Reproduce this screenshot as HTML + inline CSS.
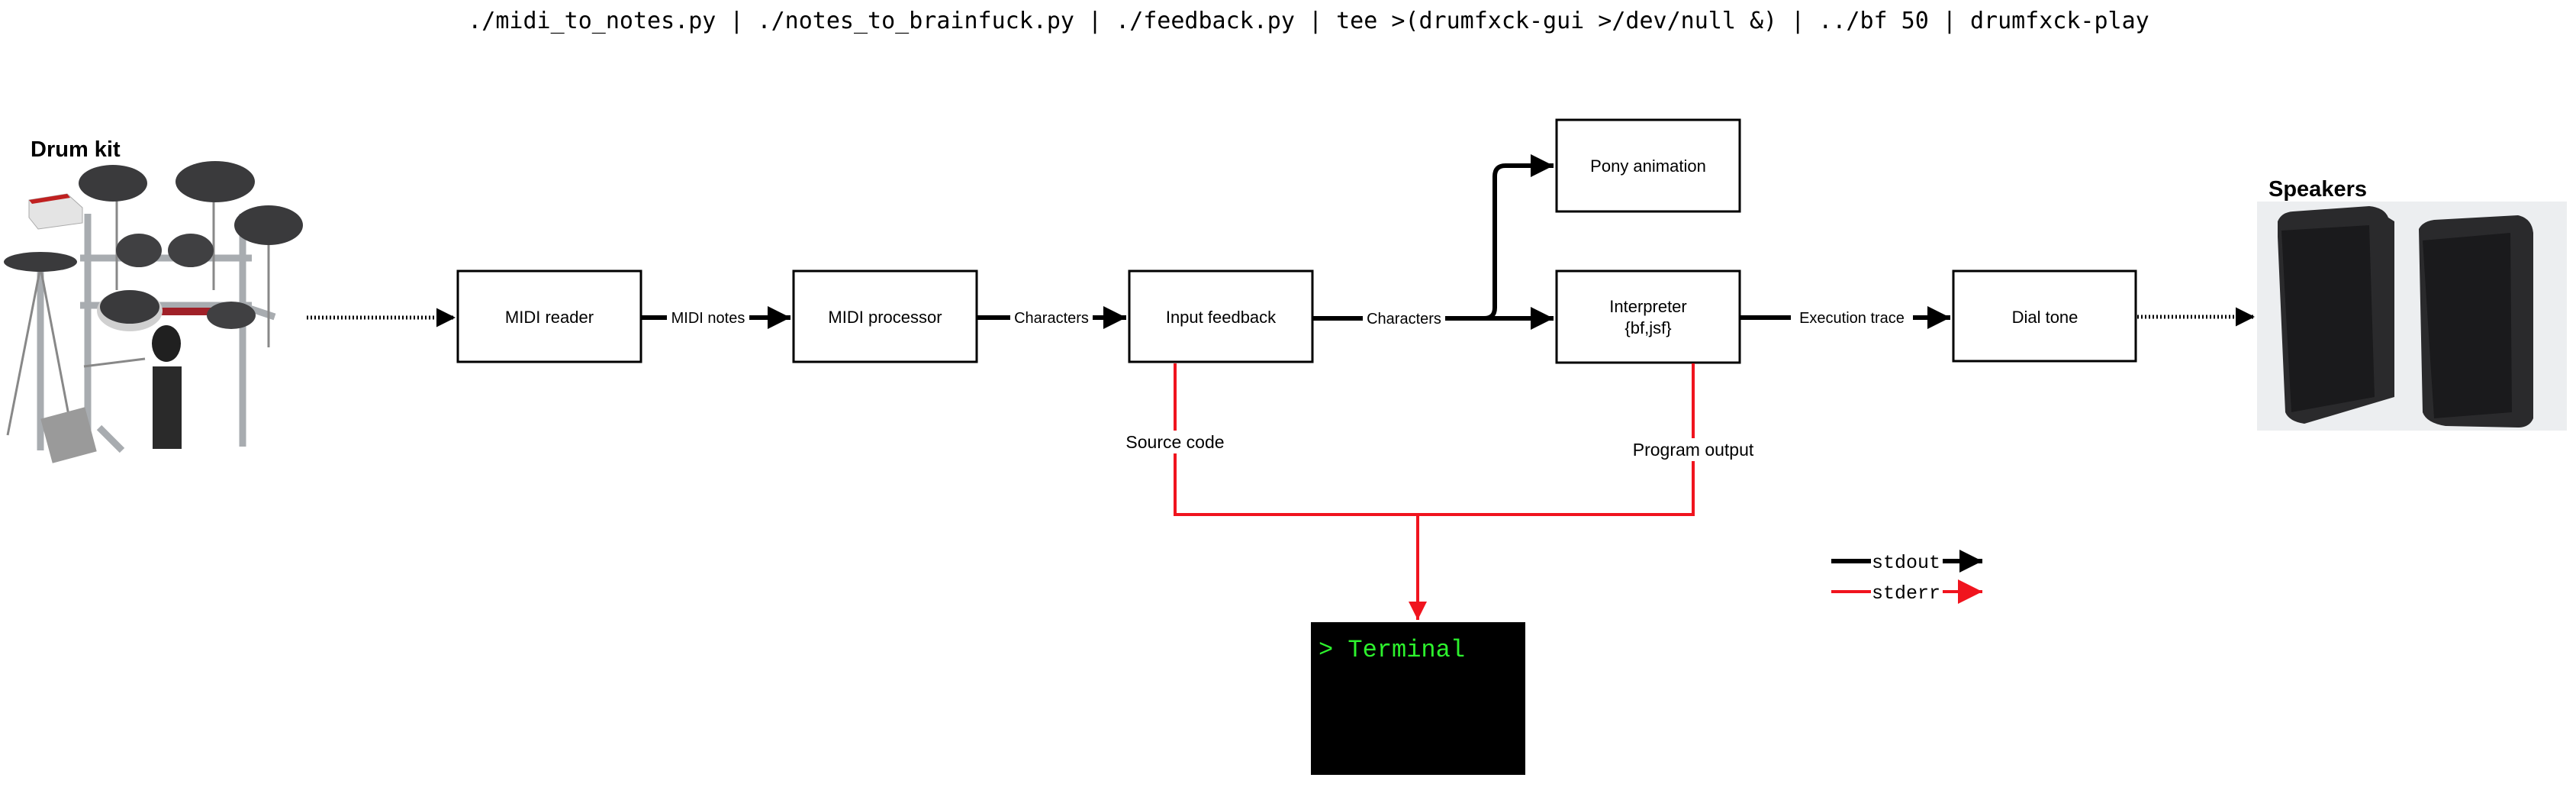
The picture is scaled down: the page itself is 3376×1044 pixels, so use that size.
<!DOCTYPE html>
<html><head><meta charset="utf-8"><style>
html,body{margin:0;padding:0;background:#fff;}
svg{display:block;}
.t{font-family:"Liberation Sans",Arial,sans-serif;font-size:22px;fill:#000;}
</style></head><body>
<svg width="3376" height="1044" viewBox="0 0 3376 1044" xmlns="http://www.w3.org/2000/svg">
<defs>
<marker id="ah" viewBox="0 0 10 10" refX="10" refY="5" markerWidth="5" markerHeight="5" markerUnits="strokeWidth" orient="auto"><path d="M0,0 L10,5 L0,10 z" fill="#000"/></marker>
<marker id="ahr" viewBox="0 0 10 10" refX="10" refY="5" markerWidth="6" markerHeight="6" markerUnits="strokeWidth" orient="auto"><path d="M0,0 L10,5 L0,10 z" fill="#f0141e"/></marker>
<marker id="ahr2" viewBox="0 0 10 10" refX="10" refY="5" markerWidth="8" markerHeight="8" markerUnits="strokeWidth" orient="auto"><path d="M0,0 L10,5 L0,10 z" fill="#f0141e"/></marker>
</defs>

<text x="1715" y="37" text-anchor="middle" font-family="'DejaVu Sans Mono','Liberation Mono',monospace" font-size="30" fill="#000">./midi_to_notes.py | ./notes_to_brainfuck.py | ./feedback.py | tee &gt;(drumfxck-gui &gt;/dev/null &amp;) | ../bf 50 | drumfxck-play</text>

<!-- Drum kit -->
<text x="40" y="205" font-family="'Liberation Sans',Arial,sans-serif" font-weight="bold" font-size="29" fill="#000">Drum kit</text>
<g>
<g stroke="#a8acb0" stroke-width="9" fill="none">
<line x1="115" y1="280" x2="115" y2="580"/>
<line x1="318" y1="280" x2="318" y2="585"/>
<line x1="105" y1="338" x2="330" y2="338"/>
<line x1="105" y1="400" x2="330" y2="400"/>
<line x1="53" y1="350" x2="53" y2="590"/>
<line x1="130" y1="560" x2="160" y2="590"/>
<line x1="315" y1="400" x2="360" y2="415"/>
</g>
<g stroke="#888" stroke-width="3">
<line x1="153" y1="245" x2="153" y2="380"/>
<line x1="280" y1="245" x2="280" y2="380"/>
<line x1="352" y1="300" x2="352" y2="455"/>
<line x1="53" y1="350" x2="10" y2="570"/>
<line x1="53" y1="350" x2="95" y2="570"/>
<line x1="110" y1="480" x2="190" y2="470"/>
</g>
<rect x="210" y="403" width="95" height="10" fill="#a02028"/>
<path d="M38,262 L88,254 L108,272 L108,292 L50,300 L38,285 Z" fill="#e4e4e4" stroke="#aaa"/>
<path d="M38,262 L88,254 L92,259 L42,267 Z" fill="#c02020"/>
<ellipse cx="148" cy="240" rx="45" ry="24" fill="#3a3a3c"/>
<ellipse cx="282" cy="238" rx="52" ry="27" fill="#3a3a3c"/>
<ellipse cx="352" cy="295" rx="45" ry="26" fill="#3a3a3c"/>
<ellipse cx="53" cy="343" rx="48" ry="13" fill="#3a3a3c"/>
<ellipse cx="182" cy="328" rx="30" ry="22" fill="#404042"/>
<ellipse cx="250" cy="328" rx="30" ry="22" fill="#404042"/>
<ellipse cx="170" cy="407" rx="43" ry="27" fill="#d0d0d0"/>
<ellipse cx="170" cy="402" rx="39" ry="22" fill="#3a3a3c"/>
<ellipse cx="303" cy="413" rx="32" ry="18" fill="#404042"/>
<ellipse cx="218" cy="450" rx="19" ry="24" fill="#202020"/>
<rect x="200" y="480" width="38" height="108" fill="#2a2a2a"/>
<rect x="60" y="540" width="60" height="60" fill="#9a9a9a" transform="rotate(-15 90 570)"/>
</g>
<line x1="402" y1="416" x2="597" y2="416" stroke="#000" stroke-width="5" stroke-dasharray="2,3" marker-end="url(#ah)"/>

<!-- Boxes -->
<g fill="#fff" stroke="#000" stroke-width="3">
<rect x="600" y="355" width="240" height="119"/>
<rect x="1040" y="355" width="240" height="119"/>
<rect x="1480" y="355" width="240" height="119"/>
<rect x="2040" y="157" width="240" height="120"/>
<rect x="2040" y="355" width="240" height="120"/>
<rect x="2560" y="355" width="239" height="118"/>
</g>
<text class="t" x="720" y="423" text-anchor="middle">MIDI reader</text>
<text class="t" x="1160" y="423" text-anchor="middle">MIDI processor</text>
<text class="t" x="1600" y="423" text-anchor="middle">Input feedback</text>
<text class="t" x="2160" y="225" text-anchor="middle">Pony animation</text>
<text class="t" x="2160" y="409" text-anchor="middle">Interpreter</text>
<text class="t" x="2160" y="437" text-anchor="middle">{bf,jsf}</text>
<text class="t" x="2680" y="423" text-anchor="middle">Dial tone</text>

<!-- stdout arrows -->
<g stroke="#000" stroke-width="6" fill="none">
<line x1="841" y1="416" x2="1036" y2="416" marker-end="url(#ah)"/>
<line x1="1281" y1="416" x2="1476" y2="416" marker-end="url(#ah)"/>
<line x1="1721" y1="417" x2="2036" y2="417" marker-end="url(#ah)"/>
<path d="M1900,417 L1945,417 Q1959,417 1959,403 L1959,231 Q1959,217 1973,217 L2036,217" marker-end="url(#ah)"/>
<line x1="2281" y1="416" x2="2556" y2="416" marker-end="url(#ah)"/>
</g>
<g font-family="'Liberation Sans',Arial,sans-serif" font-size="20" text-anchor="middle">
<rect x="874" y="404" width="108" height="24" fill="#fff"/>
<text x="928" y="423">MIDI notes</text>
<rect x="1324" y="404" width="108" height="24" fill="#fff"/>
<text x="1378" y="423">Characters</text>
<rect x="1786" y="404" width="108" height="24" fill="#fff"/>
<text x="1840" y="424">Characters</text>
<rect x="2347" y="404" width="160" height="24" fill="#fff"/>
<text x="2427" y="423">Execution trace</text>
</g>
<line x1="2801" y1="415" x2="2955" y2="415" stroke="#000" stroke-width="5" stroke-dasharray="2,3" marker-end="url(#ah)"/>

<!-- Speakers -->
<text x="2973" y="257" font-family="'Liberation Sans',Arial,sans-serif" font-weight="bold" font-size="29" fill="#000">Speakers</text>
<rect x="2958" y="264" width="406" height="300" fill="#eceef0"/>
<path d="M2985,290 Q2990,278 3005,277 L3105,270 Q3125,272 3130,285 L3138,290 L3138,520 L3020,555 Q3000,552 2995,540 L2985,310 Z" fill="#2a2a2c"/>
<path d="M2990,302 L3105,295 L3112,520 L3003,540 Z" fill="#1a1a1c"/>
<path d="M3170,300 Q3175,290 3190,288 L3300,282 Q3318,286 3320,305 L3320,548 Q3315,560 3300,560 L3205,558 Q3180,554 3175,540 Z" fill="#2a2a2c"/>
<path d="M3175,315 L3290,305 L3292,540 L3190,548 Z" fill="#1a1a1c"/>

<!-- stderr -->
<g stroke="#f0141e" stroke-width="4" fill="none">
<path d="M1540,476 L1540,674 L2219,674 L2219,476"/>
<line x1="1858" y1="674" x2="1858" y2="812" marker-end="url(#ahr)"/>
</g>
<rect x="1460" y="564" width="160" height="30" fill="#fff"/>
<text x="1540" y="587" text-anchor="middle" font-family="'Liberation Sans',Arial,sans-serif" font-size="23">Source code</text>
<rect x="2125" y="574" width="190" height="30" fill="#fff"/>
<text x="2219" y="597" text-anchor="middle" font-family="'Liberation Sans',Arial,sans-serif" font-size="23">Program output</text>

<!-- Terminal -->
<rect x="1718" y="815" width="281" height="200" fill="#000"/>
<text x="1728" y="860" font-family="'Liberation Mono',monospace" font-size="32" fill="#2df22d">&gt; Terminal</text>

<!-- Legend -->
<line x1="2400" y1="735" x2="2452" y2="735" stroke="#000" stroke-width="6"/>
<line x1="2546" y1="735" x2="2598" y2="735" stroke="#000" stroke-width="6" marker-end="url(#ah)"/>
<text x="2453" y="744" font-family="'Liberation Mono',monospace" font-size="25">stdout</text>
<line x1="2400" y1="775" x2="2452" y2="775" stroke="#f0141e" stroke-width="4"/>
<line x1="2546" y1="775" x2="2598" y2="775" stroke="#f0141e" stroke-width="4" marker-end="url(#ahr2)"/>
<text x="2453" y="784" font-family="'Liberation Mono',monospace" font-size="25">stderr</text>
</svg>
</body></html>
